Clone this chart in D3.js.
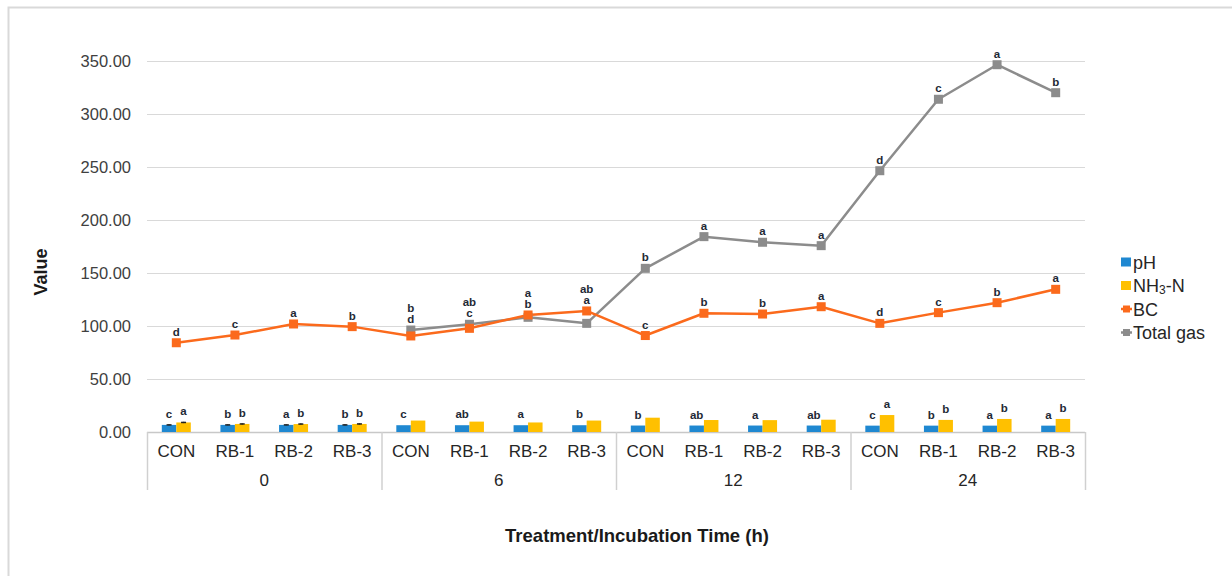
<!DOCTYPE html>
<html>
<head>
<meta charset="utf-8">
<script src="https://cdn.jsdelivr.net/npm/d3@7/dist/d3.min.js"></script>
<style>
  html, body { margin: 0; padding: 0; background: #fff; }
  svg { display: block; font-family: "Liberation Sans", Arial, sans-serif; }
</style>
</head>
<body>
<svg id="chart" width="1232" height="576"></svg>
<script>
// Incubation times and treatments (two-level category axis)
const times = ["0", "6", "12", "24"];
const treatments = ["CON", "RB-1", "RB-2", "RB-3"];

// Series values, ordered time-major: 0h CON..RB-3, 6h ..., 12h ..., 24h ...
const pH = [6.7, 6.7, 6.7, 6.7, 6.4, 6.4, 6.4, 6.4, 6.1, 6.1, 6.1, 6.1, 6.0, 6.0, 6.0, 6.0];
const nh3n = [9.0, 7.6, 7.5, 7.6, 10.8, 9.8, 9.0, 10.8, 13.5, 11.3, 11.2, 11.6, 16.0, 11.4, 12.3, 12.3];
const bc = [84.2, 91.5, 101.9, 99.4, 90.6, 97.8, 110.4, 114.2, 91.0, 112.0, 111.3, 118.2, 102.5, 112.6, 122.0, 134.6];
const totalGas = [null, null, null, null, 96.2, 101.6, 108.2, 102.5, 154.4, 184.3, 179.0, 175.8, 246.5, 313.9, 346.5, 320.1];

// Standard errors (only the 0 h bars carry visible whiskers)
const pHErr = [0.3, 0.3, 0.3, 0.3, 0, 0, 0, 0, 0, 0, 0, 0, 0, 0, 0, 0];
const nh3nErr = [0.6, 0.5, 0.5, 0.5, 0, 0, 0, 0, 0, 0, 0, 0, 0, 0, 0, 0];

// Significance letters
const pHLetters = ["c", "b", "a", "b", "c", "ab", "a", "b", "b", "ab", "a", "ab", "c", "b", "a", "a"];
const nh3nLetters = ["a", "b", "b", "b", "", "", "", "", "", "", "", "", "a", "b", "b", "b"];
const bcLetters = ["d", "c", "a", "b", "d", "c", "b", "a", "c", "b", "b", "a", "d", "c", "b", "a"];
const gasLetters = ["", "", "", "", "b", "ab", "a", "ab", "b", "a", "a", "a", "d", "c", "a", "b"];

const yTicks = [0, 50, 100, 150, 200, 250, 300, 350];

const colors = { pH: "#1f88d1", nh3n: "#ffc000", bc: "#fb6a1c", gas: "#8c8c8c" };

const svg = d3.select("#chart");

// Outer chart frame
svg.append("rect")
  .attr("x", 8.5).attr("y", 7.5).attr("width", 1260).attr("height", 620)
  .attr("fill", "none").attr("stroke", "#d9d9d9").attr("stroke-width", 2);

const plot = { left: 147, right: 1085, top: 61, bottom: 432 };

const keys = [];
times.forEach(t => treatments.forEach(tr => keys.push(t + "|" + tr)));

const x = d3.scaleBand().domain(keys).range([plot.left, plot.right]).padding(0);
const groupX = d3.scaleBand().domain(times).range([plot.left, plot.right]).padding(0);
const y = d3.scaleLinear().domain([0, 350]).range([plot.bottom, plot.top]);
const cx = i => x(keys[i]) + x.bandwidth() / 2;

// Gridlines + y tick labels
const yAxis = d3.axisLeft(y).tickValues(yTicks).tickFormat(d3.format(".2f"))
  .tickSize(-(plot.right - plot.left)).tickPadding(16);
const gy = svg.append("g").attr("transform", `translate(${plot.left},0)`).call(yAxis);
gy.select(".domain").remove();
gy.selectAll(".tick line").attr("stroke", "#d9d9d9").attr("stroke-width", 1);
gy.selectAll(".tick text").attr("font-size", 16.5).attr("fill", "#404040")
  .attr("font-family", "Liberation Sans, Arial, sans-serif");

// Category axis: baseline, group separators, labels
svg.append("line")
  .attr("x1", plot.left).attr("x2", plot.right)
  .attr("y1", plot.bottom + 0.5).attr("y2", plot.bottom + 0.5)
  .attr("stroke", "#c8c8c8").attr("stroke-width", 1.5);

const seps = times.map(t => groupX(t)).concat([plot.right]);
svg.append("g").selectAll("line").data(seps).join("line")
  .attr("x1", d => d + 0.5).attr("x2", d => d + 0.5)
  .attr("y1", plot.bottom).attr("y2", 490)
  .attr("stroke", "#d0d0d0").attr("stroke-width", 1.5);

svg.append("g").selectAll("text").data(keys).join("text")
  .attr("x", (d, i) => cx(i)).attr("y", 457)
  .attr("text-anchor", "middle").attr("font-size", 17).attr("fill", "#262626")
  .text(d => d.split("|")[1]);

svg.append("g").selectAll("text").data(times).join("text")
  .attr("x", d => groupX(d) + groupX.bandwidth() / 2).attr("y", 486)
  .attr("text-anchor", "middle").attr("font-size", 17).attr("fill", "#262626")
  .text(d => d);

// Bars
const barW = 14.5;
const bars = svg.append("g");
bars.selectAll("rect.ph").data(pH).join("rect").attr("class", "ph")
  .attr("x", (d, i) => cx(i) - barW).attr("width", barW)
  .attr("y", d => y(d)).attr("height", d => y(0) - y(d))
  .attr("fill", colors.pH);
bars.selectAll("rect.nh").data(nh3n).join("rect").attr("class", "nh")
  .attr("x", (d, i) => cx(i)).attr("width", barW)
  .attr("y", d => y(d)).attr("height", d => y(0) - y(d))
  .attr("fill", colors.nh3n);

// Error whiskers
function whiskers(vals, errs, offset) {
  const g = svg.append("g");
  vals.forEach((v, i) => {
    if (!errs[i]) return;
    const xc = cx(i) + offset;
    g.append("line").attr("x1", xc).attr("x2", xc)
      .attr("y1", y(v - errs[i])).attr("y2", y(v + errs[i]))
      .attr("stroke", "#222").attr("stroke-width", 1.5);
    g.append("line").attr("x1", xc - 2.5).attr("x2", xc + 2.5)
      .attr("y1", y(v)).attr("y2", y(v))
      .attr("stroke", "#222").attr("stroke-width", 1.5);
  });
}
whiskers(pH, pHErr, -barW / 2);
whiskers(nh3n, nh3nErr, barW / 2);

// Lines
const lineGen = d3.line().defined(d => d != null)
  .x((d, i) => cx(i)).y(d => y(d));

svg.append("path").datum(totalGas)
  .attr("d", lineGen).attr("fill", "none")
  .attr("stroke", colors.gas).attr("stroke-width", 2.5).attr("stroke-linejoin", "round");
svg.append("path").datum(bc)
  .attr("d", lineGen).attr("fill", "none")
  .attr("stroke", colors.bc).attr("stroke-width", 2.5).attr("stroke-linejoin", "round");

const mk = 9;
svg.append("g").selectAll("rect").data(totalGas.map((v, i) => ({ v, i })).filter(d => d.v != null))
  .join("rect")
  .attr("x", d => cx(d.i) - mk / 2).attr("y", d => y(d.v) - mk / 2)
  .attr("width", mk).attr("height", mk).attr("fill", colors.gas);
svg.append("g").selectAll("rect").data(bc.map((v, i) => ({ v, i })))
  .join("rect")
  .attr("x", d => cx(d.i) - mk / 2).attr("y", d => y(d.v) - mk / 2)
  .attr("width", mk).attr("height", mk).attr("fill", colors.bc);

// Significance letters
const letterStyle = sel => sel.attr("text-anchor", "middle").attr("font-size", 11.5)
  .attr("font-weight", "bold").attr("fill", "#1f2a36");
const labels = svg.append("g");

pH.forEach((v, i) => {
  if (pHLetters[i]) labels.append("text").call(letterStyle)
    .attr("x", cx(i) - barW / 2).attr("y", y(v) - 7).text(pHLetters[i]);
  if (nh3nLetters[i]) labels.append("text").call(letterStyle)
    .attr("x", cx(i) + barW / 2).attr("y", y(nh3n[i]) - 7).text(nh3nLetters[i]);
});

bc.forEach((v, i) => {
  const g = totalGas[i];
  if (g == null) {
    labels.append("text").call(letterStyle)
      .attr("x", cx(i)).attr("y", y(v) - 7).text(bcLetters[i]);
  } else if (Math.abs(y(g) - y(v)) < 30) {
    // close points: letters stacked above the higher marker
    const top = Math.min(y(g), y(v));
    labels.append("text").call(letterStyle)
      .attr("x", cx(i)).attr("y", top - 7).text(bcLetters[i]);
    labels.append("text").call(letterStyle)
      .attr("x", cx(i)).attr("y", top - 18).text(gasLetters[i]);
  } else {
    labels.append("text").call(letterStyle)
      .attr("x", cx(i)).attr("y", y(v) - 7).text(bcLetters[i]);
    labels.append("text").call(letterStyle)
      .attr("x", cx(i)).attr("y", y(g) - 7).text(gasLetters[i]);
  }
});

// Axis titles
svg.append("text")
  .attr("transform", "translate(47,272) rotate(-90)")
  .attr("text-anchor", "middle").attr("font-size", 18).attr("font-weight", "bold")
  .attr("fill", "#1a1a1a").text("Value");
svg.append("text")
  .attr("x", 637).attr("y", 542)
  .attr("text-anchor", "middle").attr("font-size", 18.5).attr("font-weight", "bold")
  .attr("fill", "#1a1a1a").text("Treatment/Incubation Time (h)");

// Legend
const legend = svg.append("g").attr("transform", "translate(1121,262)");
const items = [
  { key: "pH", type: "bar", color: colors.pH },
  { key: "NH3-N", type: "bar", color: colors.nh3n },
  { key: "BC", type: "line", color: colors.bc },
  { key: "Total gas", type: "line", color: colors.gas }
];
items.forEach((it, k) => {
  const row = legend.append("g").attr("transform", `translate(0,${k * 23.5})`);
  if (it.type === "bar") {
    row.append("rect").attr("x", 0).attr("y", -4.5).attr("width", 10).attr("height", 9).attr("fill", it.color);
  } else {
    row.append("line").attr("x1", 0).attr("x2", 11).attr("y1", 0).attr("y2", 0)
      .attr("stroke", it.color).attr("stroke-width", 2.5);
    row.append("rect").attr("x", 2).attr("y", -3.5).attr("width", 7).attr("height", 7).attr("fill", it.color);
  }
  const t = row.append("text").attr("x", 12).attr("y", 6.5)
    .attr("font-size", 18).attr("fill", "#262626");
  if (it.key === "NH3-N") {
    t.append("tspan").text("NH");
    t.append("tspan").attr("font-size", 12).attr("dy", 2).text("3");
    t.append("tspan").attr("dy", -2).text("-N");
  } else {
    t.text(it.key);
  }
});
</script>
</body>
</html>
